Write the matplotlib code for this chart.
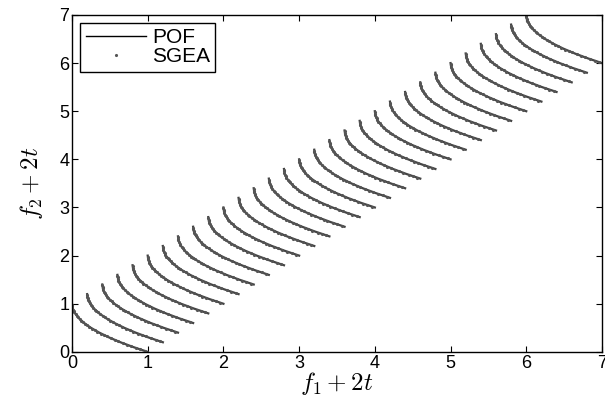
import matplotlib
matplotlib.use("Agg")
import matplotlib.pyplot as plt

# shift 2t of each front (one curve per time step)
shifts = [0.0, 0.2, 0.4, 0.6, 0.8, 1.0, 1.2, 1.4, 1.6, 1.8, 2.0,
          2.2, 2.4, 2.6, 2.8, 3.0, 3.2, 3.4, 3.6, 3.8, 4.0,
          4.2, 4.4, 4.6, 4.8, 5.0, 5.2, 5.4, 5.6, 5.8, 6.0]

# shape of one true front
pof_f1 = [0.00, 0.01, 0.04, 0.09, 0.16, 0.25, 0.36, 0.49, 0.64, 0.81, 1.00]
pof_f2 = [1.00, 0.90, 0.80, 0.70, 0.60, 0.50, 0.40, 0.30, 0.20, 0.10, 0.00]

# SGEA solutions found on one front
sgea_f1 = [0.000, 0.003, 0.006, 0.014, 0.023, 0.032, 0.048, 0.063, 0.078, 0.102,
           0.123, 0.144, 0.176, 0.203, 0.230, 0.270, 0.303, 0.336, 0.384, 0.423,
           0.462, 0.518, 0.563, 0.608, 0.672, 0.723, 0.774, 0.846, 0.903, 0.960]
sgea_f2 = [0.98, 0.95, 0.92, 0.88, 0.85, 0.82, 0.78, 0.75, 0.72, 0.68,
           0.65, 0.62, 0.58, 0.55, 0.52, 0.48, 0.45, 0.42, 0.38, 0.35,
           0.32, 0.28, 0.25, 0.22, 0.18, 0.15, 0.12, 0.08, 0.05, 0.02]

plt.rcParams["font.family"] = ["Liberation Sans", "DejaVu Sans"]
plt.rcParams["mathtext.fontset"] = "cm"

fig = plt.figure(figsize=(6.05, 4.04), dpi=100)
ax = fig.add_axes([0.119, 0.129, 0.876, 0.834])

for i, s in enumerate(shifts):
    ax.plot([x + s for x in pof_f1], [y + s for y in pof_f2],
            color="#444444", lw=1.6, label="POF" if i == 0 else None)
for i, s in enumerate(shifts):
    ax.plot([x + s for x in sgea_f1], [y + s for y in sgea_f2], ".",
            color="#555555", ms=2.5, label="SGEA" if i == 0 else None)

ax.set_xlim(0, 7)
ax.set_ylim(0, 7)
ax.set_xticks(range(8))
ax.set_yticks(range(8))
ax.tick_params(direction="in", top=True, right=True, length=4,
               labelsize=13, pad=2)
for sp in ax.spines.values():
    sp.set_linewidth(1.0)

ax.set_xlabel(r"$f_1+2t$", fontsize=18, labelpad=-1)
ax.set_ylabel(r"$f_2+2t$", fontsize=18, labelpad=10)

leg = ax.legend(loc="upper left", fontsize=15, fancybox=False,
                edgecolor="black", framealpha=1, borderpad=0.25,
                handlelength=2.9, handletextpad=0.3, labelspacing=0.0,
                borderaxespad=0.4, markerscale=1.0)
leg.get_frame().set_linewidth(1.0)
leg.get_lines()[0].set_color("black")
leg.get_lines()[0].set_linewidth(1.0)

fig.savefig("out.png", dpi=100)
